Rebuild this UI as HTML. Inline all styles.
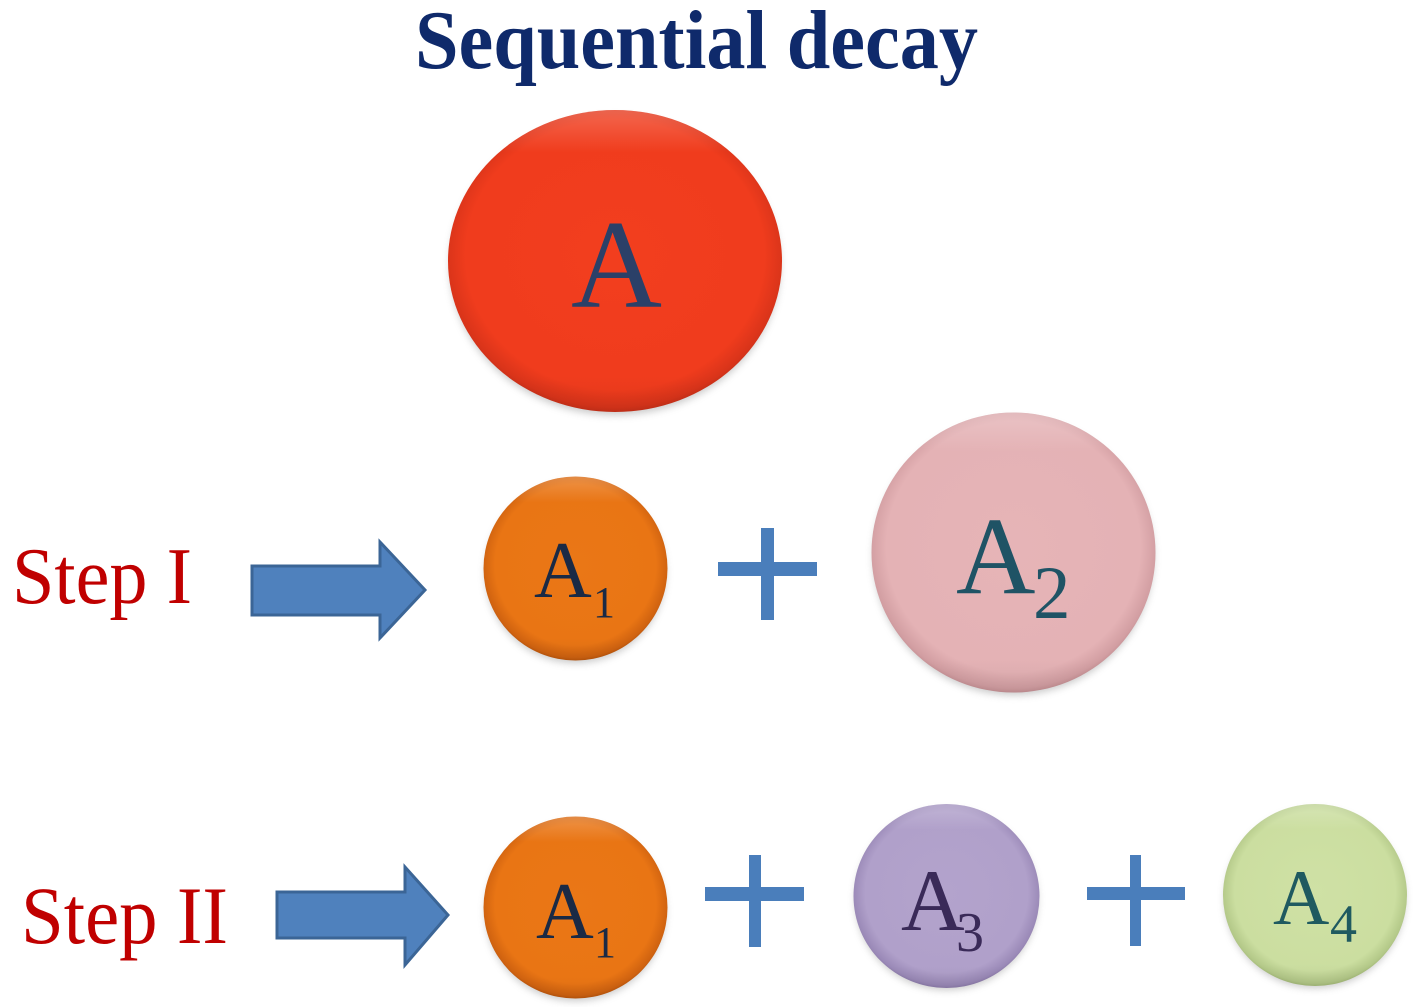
<!DOCTYPE html>
<html>
<head>
<meta charset="utf-8">
<style>
html,body{margin:0;padding:0;background:#fff;}
svg{display:block;}
text{font-family:"Liberation Serif","Times New Roman",serif;}
</style>
</head>
<body>
<svg width="1426" height="1007" viewBox="0 0 1426 1007" xmlns="http://www.w3.org/2000/svg">
<defs>
  <filter id="sh" x="-30%" y="-30%" width="160%" height="160%"><feGaussianBlur stdDeviation="4"/></filter>
  <radialGradient id="gRed" cx="50%" cy="48%" r="52%">
    <stop offset="0" stop-color="#f23e1e"/><stop offset="0.86" stop-color="#f03c1d"/><stop offset="0.97" stop-color="#d9341a"/><stop offset="1" stop-color="#c93018"/>
  </radialGradient>
  <radialGradient id="gOr" cx="50%" cy="48%" r="52%">
    <stop offset="0" stop-color="#ea7716"/><stop offset="0.84" stop-color="#e97514"/><stop offset="0.97" stop-color="#cf6210"/><stop offset="1" stop-color="#bb560c"/>
  </radialGradient>
  <radialGradient id="gPk" cx="50%" cy="48%" r="52%">
    <stop offset="0" stop-color="#e6b4b7"/><stop offset="0.86" stop-color="#e4b2b5"/><stop offset="0.97" stop-color="#d29ea2"/><stop offset="1" stop-color="#c69195"/>
  </radialGradient>
  <radialGradient id="gPu" cx="50%" cy="48%" r="52%">
    <stop offset="0" stop-color="#b3a3cc"/><stop offset="0.84" stop-color="#b0a0ca"/><stop offset="0.97" stop-color="#9a89b7"/><stop offset="1" stop-color="#8d7cab"/>
  </radialGradient>
  <radialGradient id="gGr" cx="50%" cy="48%" r="52%">
    <stop offset="0" stop-color="#cfe1a5"/><stop offset="0.84" stop-color="#cbdea0"/><stop offset="0.97" stop-color="#b3c888"/><stop offset="1" stop-color="#a5bb79"/>
  </radialGradient>
  <linearGradient id="hl" x1="0" y1="0" x2="0" y2="1">
    <stop offset="0" stop-color="#fff" stop-opacity="0.22"/><stop offset="0.14" stop-color="#fff" stop-opacity="0"/><stop offset="0.88" stop-color="#000" stop-opacity="0"/><stop offset="1" stop-color="#000" stop-opacity="0.06"/>
  </linearGradient>
</defs>

<!-- Title -->
<text x="415" y="68" font-size="84" font-weight="bold" fill="#0f2a6b" textLength="563" lengthAdjust="spacingAndGlyphs">Sequential decay</text>

<!-- Big A -->
<ellipse cx="615" cy="266" rx="165" ry="149" fill="#777" opacity="0.4" filter="url(#sh)"/>
<ellipse cx="615" cy="261" rx="167" ry="151" fill="url(#gRed)"/>
<ellipse cx="615" cy="261" rx="167" ry="151" fill="url(#hl)"/>
<text x="571" y="307" font-size="126" fill="#2b4068">A</text>

<!-- Step I -->
<text x="12" y="603" font-size="80" fill="#c00000" textLength="180" lengthAdjust="spacingAndGlyphs">Step I</text>
<polygon points="252,566 380,566 380,542 425,590 380,638 380,615 252,615" fill="#4f81bd" stroke="#3b6596" stroke-width="3" stroke-linejoin="miter"/>

<!-- A1 (step I) -->
<ellipse cx="575.5" cy="573" rx="90" ry="90" fill="#777" opacity="0.4" filter="url(#sh)"/>
<ellipse cx="575.5" cy="568.5" rx="92" ry="92" fill="url(#gOr)"/>
<ellipse cx="575.5" cy="568.5" rx="92" ry="92" fill="url(#hl)"/>
<text x="534" y="597" font-size="80" fill="#1a2a45">A</text>
<text x="593" y="617" font-size="44" fill="#1a2a45">1</text>

<!-- plus 1 -->
<rect x="718" y="562" width="99" height="14" fill="#4a7ebb"/>
<rect x="761" y="528" width="13" height="92" fill="#4a7ebb"/>

<!-- A2 -->
<ellipse cx="1013.5" cy="557" rx="140" ry="138" fill="#777" opacity="0.4" filter="url(#sh)"/>
<ellipse cx="1013.5" cy="552.5" rx="142" ry="140" fill="url(#gPk)"/>
<ellipse cx="1013.5" cy="552.5" rx="142" ry="140" fill="url(#hl)"/>
<text x="956" y="593" font-size="110" fill="#1f5365">A</text>
<text x="1033" y="618" font-size="75" fill="#1f5365">2</text>

<!-- Step II -->
<text x="21" y="943" font-size="82" fill="#c00000" textLength="207" lengthAdjust="spacingAndGlyphs">Step II</text>
<polygon points="277,892 405,892 405,867 448,915 405,965 405,938 277,938" fill="#4f81bd" stroke="#3b6596" stroke-width="3" stroke-linejoin="miter"/>

<!-- A1 (step II) -->
<ellipse cx="575.5" cy="912" rx="90" ry="89" fill="#777" opacity="0.4" filter="url(#sh)"/>
<ellipse cx="575.5" cy="907.5" rx="92" ry="91" fill="url(#gOr)"/>
<ellipse cx="575.5" cy="907.5" rx="92" ry="91" fill="url(#hl)"/>
<text x="536" y="938" font-size="80" fill="#1a2a45">A</text>
<text x="594" y="957" font-size="44" fill="#1a2a45">1</text>

<!-- plus 2 -->
<rect x="705" y="887" width="99" height="14" fill="#4a7ebb"/>
<rect x="749" y="855" width="12" height="92" fill="#4a7ebb"/>

<!-- A3 -->
<ellipse cx="946.5" cy="900" rx="91" ry="90" fill="#777" opacity="0.4" filter="url(#sh)"/>
<ellipse cx="946.5" cy="896" rx="93" ry="92" fill="url(#gPu)"/>
<ellipse cx="946.5" cy="896" rx="93" ry="92" fill="url(#hl)"/>
<text x="901" y="930" font-size="88" fill="#3a2a58">A</text>
<text x="956" y="951" font-size="56" fill="#3a2a58">3</text>

<!-- plus 3 -->
<rect x="1087" y="887" width="98" height="13" fill="#4a7ebb"/>
<rect x="1130" y="855" width="11" height="91" fill="#4a7ebb"/>

<!-- A4 -->
<ellipse cx="1315" cy="899" rx="90" ry="89" fill="#777" opacity="0.4" filter="url(#sh)"/>
<ellipse cx="1315" cy="895" rx="92" ry="91" fill="url(#gGr)"/>
<ellipse cx="1315" cy="895" rx="92" ry="91" fill="url(#hl)"/>
<text x="1273" y="924" font-size="78" fill="#1f5a60">A</text>
<text x="1330" y="942" font-size="54" fill="#1f5a60">4</text>
</svg>
</body>
</html>
